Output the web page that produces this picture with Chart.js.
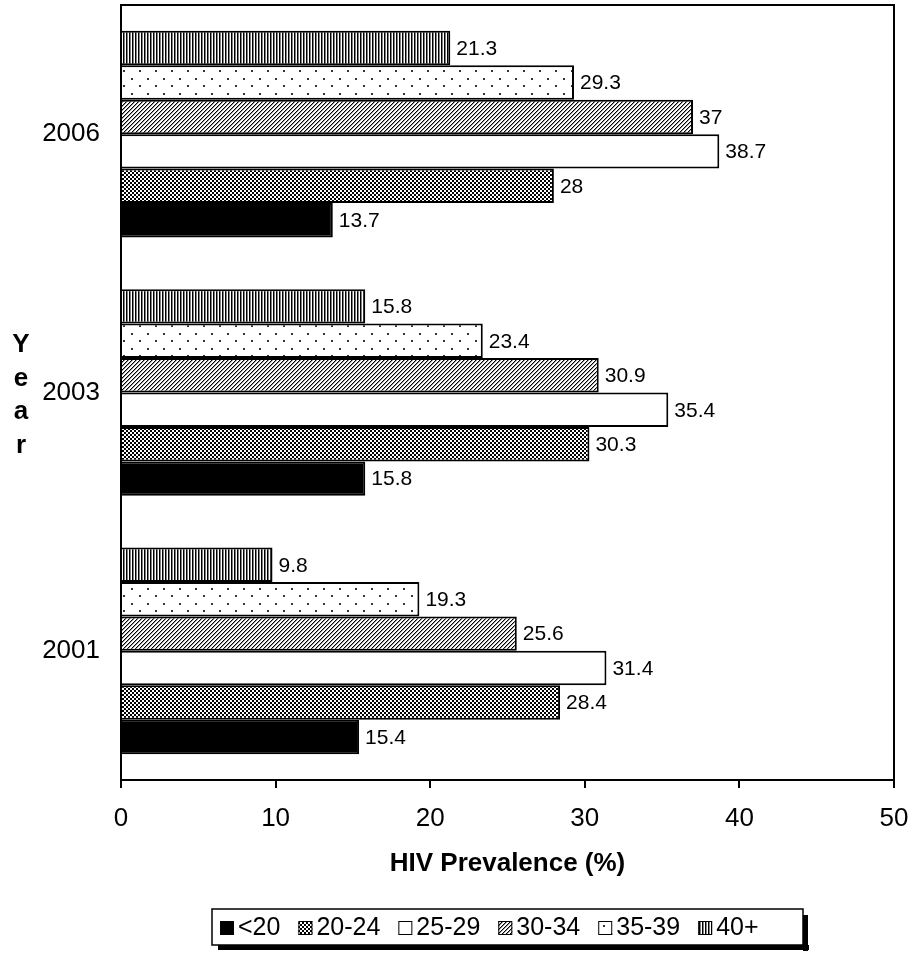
<!DOCTYPE html>
<html>
<head>
<meta charset="utf-8">
<script src="https://cdn.jsdelivr.net/npm/chart.js@4"></script>
<style>
  html, body { margin: 0; padding: 0; background: #fff; }
  canvas { display: block; }
</style>
</head>
<body>
<canvas id="c" width="913" height="957"></canvas>
<script>
// Survey years (top to bottom) and age groups
const years = ['2006', '2003', '2001'];
const ageGroups = ['<20', '20-24', '25-29', '30-34', '35-39', '40+'];

// HIV prevalence (%) by age group, one value per year in the order above
const under20   = [13.7, 15.8, 15.4];
const age20to24 = [28, 30.3, 28.4];
const age25to29 = [38.7, 35.4, 31.4];
const age30to34 = [37, 30.9, 25.6];
const age35to39 = [29.3, 23.4, 19.3];
const age40plus = [21.3, 15.8, 9.8];

const xMin = 0, xMax = 50, xStep = 10;

const FONT = '"Liberation Sans", Arial, sans-serif';
const canvas = document.getElementById('c');
const mainCtx = canvas.getContext('2d');

// Monochrome fill patterns
function makePattern(w, h, draw) {
  const t = document.createElement('canvas');
  t.width = w; t.height = h;
  const g = t.getContext('2d');
  g.fillStyle = '#fff';
  g.fillRect(0, 0, w, h);
  draw(g);
  return mainCtx.createPattern(t, 'repeat');
}
const fillSolid = '#000';
const fillChecker = makePattern(4, 4, g => {
  g.fillStyle = '#000';
  g.fillRect(0, 0, 2, 2);
  g.fillRect(2, 2, 2, 2);
});
const fillWhite = '#fff';
const fillDiagonal = makePattern(4, 4, g => {
  for (let i = 0; i < 4; i++) {
    const x = 3 - i;
    g.fillStyle = '#000';
    g.fillRect(x, i, 1, 1);
    g.fillStyle = '#999';
    g.fillRect((x + 1) % 4, i, 1, 1);
  }
});
const fillDots = makePattern(16, 15, g => {
  g.fillStyle = '#333';
  g.fillRect(3, 3, 2, 2);
  g.fillRect(11, 10, 2, 2);
});
const fillVertical = makePattern(3, 1, g => {
  g.fillStyle = '#000';
  g.fillRect(0, 0, 1, 1);
  g.fillStyle = '#808080';
  g.fillRect(1, 0, 1, 1);
});

const series = [
  { label: '<20',   data: under20,   fill: fillSolid },
  { label: '20-24', data: age20to24, fill: fillChecker },
  { label: '25-29', data: age25to29, fill: fillWhite },
  { label: '30-34', data: age30to34, fill: fillDiagonal },
  { label: '35-39', data: age35to39, fill: fillDots },
  { label: '40+',   data: age40plus, fill: fillVertical }
];

// Horizontal bars: the first dataset sits at the top of each group,
// so the oldest age group is listed first to land on top.
const datasets = series.slice().reverse().map(s => ({
  label: s.label,
  data: s.data,
  backgroundColor: s.fill,
  borderColor: '#000',
  borderWidth: 2,
  borderSkipped: 'start',
  categoryPercentage: 0.8,
  barPercentage: 1.0
}));

const decorations = {
  id: 'decorations',
  afterDatasetsDraw(chart) {
    const ctx = chart.ctx;
    ctx.save();
    ctx.font = '21px ' + FONT;
    ctx.fillStyle = '#000';
    ctx.textAlign = 'left';
    ctx.textBaseline = 'middle';
    chart.data.datasets.forEach((ds, i) => {
      chart.getDatasetMeta(i).data.forEach((bar, j) => {
        ctx.fillText(String(ds.data[j]), bar.x + 6, bar.y + 1);
      });
    });
    ctx.restore();
  },
  afterDraw(chart) {
    const ctx = chart.ctx;
    const a = chart.chartArea;
    ctx.save();
    // plot frame
    ctx.strokeStyle = '#000';
    ctx.lineWidth = 2;
    ctx.strokeRect(a.left, a.top, a.right - a.left, a.bottom - a.top);

    // axis titles
    ctx.fillStyle = '#000';
    ctx.font = 'bold 26px ' + FONT;
    ctx.textAlign = 'center';
    ctx.textBaseline = 'middle';
    ctx.fillText('HIV Prevalence (%)', (a.left + a.right) / 2, 864);
    ctx.textBaseline = 'alphabetic';
    const letters = ['Y', 'e', 'a', 'r'];
    letters.forEach((ch, k) => ctx.fillText(ch, 21, 352 + k * 33.5));

    // legend
    const lx = 212, ly = 909, lw = 591, lh = 36;
    ctx.fillStyle = '#000';
    ctx.fillRect(lx + lw, ly + 6, 5, lh);
    ctx.fillRect(lx + 6, ly + lh, lw, 5);
    ctx.fillStyle = '#fff';
    ctx.fillRect(lx, ly, lw, lh);
    ctx.lineWidth = 1.5;
    ctx.strokeStyle = '#000';
    ctx.strokeRect(lx, ly, lw, lh);

    ctx.font = '25px ' + FONT;
    ctx.textAlign = 'left';
    ctx.textBaseline = 'middle';
    let x = 220;
    const cy = ly + lh / 2 + 1;
    series.forEach(s => {
      ctx.fillStyle = s.fill;
      ctx.fillRect(x, cy - 7, 14, 14);
      ctx.lineWidth = 1;
      ctx.strokeStyle = '#000';
      ctx.strokeRect(x + 0.5, cy - 6.5, 13, 13);
      ctx.fillStyle = '#000';
      ctx.fillText(s.label, x + 18, cy);
      x += 18 + ctx.measureText(s.label).width + 18;
    });
    ctx.restore();
  }
};

new Chart(canvas, {
  type: 'bar',
  data: { labels: years, datasets },
  plugins: [decorations],
  options: {
    indexAxis: 'y',
    responsive: false,
    animation: false,
    devicePixelRatio: 1,
    layout: { padding: { left: 0, right: 19, top: 5, bottom: 0 } },
    plugins: {
      legend: { display: false },
      tooltip: { enabled: false },
      title: { display: false }
    },
    scales: {
      x: {
        min: xMin,
        max: xMax,
        ticks: {
          stepSize: xStep,
          color: '#000',
          padding: 15,
          font: { family: FONT, size: 26 }
        },
        grid: {
          display: true,
          drawOnChartArea: false,
          drawTicks: true,
          tickLength: 8,
          color: '#000',
          lineWidth: 2
        },
        border: { display: true, color: '#000', width: 2 },
        afterFit(scale) {
          scale.height = 177;
          scale.paddingLeft = 0;
          scale.paddingRight = 0;
        }
      },
      y: {
        ticks: {
          color: '#000',
          padding: 13,
          font: { family: FONT, size: 26 }
        },
        grid: { display: false },
        border: { display: true, color: '#000', width: 2 },
        afterFit(scale) {
          scale.width = 121;
          scale.paddingTop = 0;
          scale.paddingBottom = 0;
        }
      }
    }
  }
});
</script>
</body>
</html>
